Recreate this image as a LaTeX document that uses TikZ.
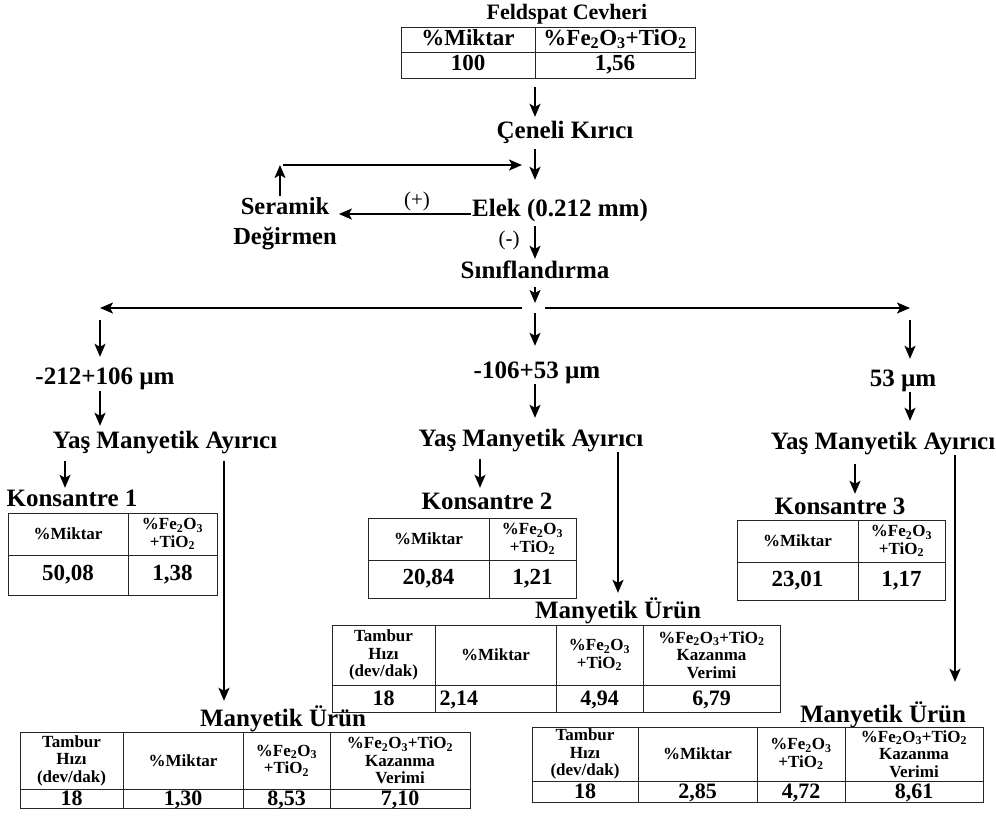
\documentclass[tikz,border=0pt]{standalone}
\usepackage{fontspec}
\setmainfont{Liberation Serif}
\usetikzlibrary{arrows.meta, positioning}
\tikzset{
    lbl/.style={font=\fontsize{25}{28}\selectfont\bfseries, inner sep=1pt, text height=17pt, text depth=5pt},
    twolbl/.style={font=\fontsize{24.5}{30}\selectfont\bfseries, inner sep=2pt, align=center},
    sublbl/.style={font=\fontsize{22}{24}\selectfont\bfseries, inner sep=2pt},
    sign/.style={font=\fontsize{21}{24}\selectfont, inner sep=1pt},
    cellbox/.style={draw=black!85, line width=0.9pt, inner sep=0.5pt, outer sep=0pt, align=center},
    hdrcell/.style={cellbox, font=\fontsize{17}{17.5}\selectfont\bfseries},
    valcell/.style={cellbox, font=\fontsize{23}{24}\selectfont\bfseries, text height=15.5pt, text depth=4pt},
    lowcell/.style={cellbox, font=\fontsize{22}{24}\selectfont\bfseries, text height=15pt, text depth=2pt},
    arr/.style={-{Stealth[length=13pt,width=11pt,inset=3pt]}, line width=1.8pt}
}
\newcommand{\feo}{\%Fe\textsubscript{2}O\textsubscript{3}}
\newcommand{\tio}{TiO\textsubscript{2}}

\begin{document}
\begin{tikzpicture}[x=1pt, y=-1pt]
    \useasboundingbox (0,0) rectangle (996,823);

    % arrow columns
    \coordinate (mid) at (535,0);
    \coordinate (c1) at (65,0);
    \coordinate (c2) at (480,0);
    \coordinate (c3) at (855,0);
    \coordinate (d1) at (224,0);
    \coordinate (d2) at (618,0);
    \coordinate (d3) at (955,0);

    \node (ttl) [sublbl] at (567,14) {Feldspat Cevheri};
    \node (ore1) [valcell, minimum width=134pt, minimum height=25pt, anchor=north west] at (401,27) {\%Miktar};
    \node (ore2) [valcell, minimum width=160pt, minimum height=25pt, right=0pt of ore1] {\feo+\tio};
    \node (ore3) [valcell, minimum width=134pt, minimum height=26pt, below=0pt of ore1] {100};
    \node (ore4) [valcell, minimum width=160pt, minimum height=26pt, below=0pt of ore2] {1,56};

    \node (crush) [lbl] at (565,132) {Çeneli Kırıcı};
    \node (elek) [lbl] at (560,210) {Elek (0.212 mm)};
    \node (seramik) [twolbl] at (285,224) {Seramik\\Değirmen};
    \node (sinif) [lbl] at (535,272) {Sınıflandırma};
    \node (plus) [sign] at (417,201) {(+)};
    \node (minus) [sign] at (509,240) {(-)};

    \coordinate (back) at (280,165);
    \coordinate (backend) at (522,165);
    \coordinate (splitL) at (522,308);
    \coordinate (splitR) at (545,308);
    \coordinate (brL) at (100,308);
    \coordinate (brR) at (910,308);

    \node (fr1) [lbl] at (105,378) {-212+106 µm};
    \node (fr2) [lbl] at (537,372) {-106+53 µm};
    \node (fr3) [lbl] at (903,380) {53 µm};

    \node (yma1) [lbl] at (165,442) {Yaş Manyetik Ayırıcı};
    \node (yma2) [lbl] at (531,440) {Yaş Manyetik Ayırıcı};
    \node (yma3) [lbl] at (883,443) {Yaş Manyetik Ayırıcı};

    \node (kon1) [lbl] at (72,500) {Konsantre 1};
    \node (kon2) [lbl] at (487,503) {Konsantre 2};
    \node (kon3) [lbl] at (840,508) {Konsantre 3};

    \node (mlbl1) [lbl] at (283,720) {Manyetik Ürün};
    \node (mlbl2) [lbl] at (618,612) {Manyetik Ürün};
    \node (mlbl3) [lbl] at (883,716) {Manyetik Ürün};

    % konsantre tablolari
    \node (k1a) [hdrcell, minimum width=120pt, minimum height=42pt, anchor=north west] at (8,513) {\%Miktar};
    \node (k1b) [hdrcell, minimum width=89pt, minimum height=42pt, right=0pt of k1a] {\feo\\+\tio};
    \node (k1c) [valcell, minimum width=120pt, minimum height=40pt, below=0pt of k1a] {50,08};
    \node (k1d) [valcell, minimum width=89pt, minimum height=40pt, below=0pt of k1b] {1,38};

    \node (k2a) [hdrcell, minimum width=121pt, minimum height=42pt, anchor=north west] at (368,518) {\%Miktar};
    \node (k2b) [hdrcell, minimum width=87pt, minimum height=42pt, right=0pt of k2a] {\feo\\+\tio};
    \node (k2c) [valcell, minimum width=121pt, minimum height=38pt, below=0pt of k2a] {20,84};
    \node (k2d) [valcell, minimum width=87pt, minimum height=38pt, below=0pt of k2b] {1,21};

    \node (k3a) [hdrcell, minimum width=121pt, minimum height=42pt, anchor=north west] at (737,520) {\%Miktar};
    \node (k3b) [hdrcell, minimum width=87pt, minimum height=42pt, right=0pt of k3a] {\feo\\+\tio};
    \node (k3c) [valcell, minimum width=121pt, minimum height=38pt, below=0pt of k3a] {23,01};
    \node (k3d) [valcell, minimum width=87pt, minimum height=38pt, below=0pt of k3b] {1,17};

    % manyetik urun tablolari
    \node (m1a) [hdrcell, minimum width=103pt, minimum height=57pt, anchor=north west] at (20,732) {Tambur\\Hızı\\(dev/dak)};
    \node (m1b) [hdrcell, minimum width=120pt, minimum height=57pt, right=0pt of m1a] {\%Miktar};
    \node (m1c) [hdrcell, minimum width=87pt, minimum height=57pt, right=0pt of m1b] {\feo\\+\tio};
    \node (m1d) [hdrcell, minimum width=140pt, minimum height=57pt, right=0pt of m1c] {\feo+\tio\\Kazanma\\Verimi};
    \node (m1e) [lowcell, minimum width=103pt, minimum height=19pt, below=0pt of m1a] {18};
    \node (m1f) [lowcell, minimum width=120pt, minimum height=19pt, below=0pt of m1b] {1,30};
    \node (m1g) [lowcell, minimum width=87pt, minimum height=19pt, below=0pt of m1c] {8,53};
    \node (m1h) [lowcell, minimum width=140pt, minimum height=19pt, below=0pt of m1d] {7,10};

    \node (m2a) [hdrcell, minimum width=103pt, minimum height=60pt, anchor=north west] at (332,625) {Tambur\\Hızı\\(dev/dak)};
    \node (m2b) [hdrcell, minimum width=121pt, minimum height=60pt, right=0pt of m2a] {\%Miktar};
    \node (m2c) [hdrcell, minimum width=87pt, minimum height=60pt, right=0pt of m2b] {\feo\\+\tio};
    \node (m2d) [hdrcell, minimum width=137pt, minimum height=60pt, right=0pt of m2c] {\feo+\tio\\Kazanma\\Verimi};
    \node (m2e) [lowcell, minimum width=103pt, minimum height=27pt, below=0pt of m2a] {18};
    \node (m2f) [lowcell, minimum width=121pt, minimum height=27pt, text width=112pt, align=left, below=0pt of m2b] {2,14};
    \node (m2g) [lowcell, minimum width=87pt, minimum height=27pt, below=0pt of m2c] {4,94};
    \node (m2h) [lowcell, minimum width=137pt, minimum height=27pt, below=0pt of m2d] {6,79};

    \node (m3a) [hdrcell, minimum width=106pt, minimum height=54pt, anchor=north west] at (532,727) {Tambur\\Hızı\\(dev/dak)};
    \node (m3b) [hdrcell, minimum width=119pt, minimum height=54pt, right=0pt of m3a] {\%Miktar};
    \node (m3c) [hdrcell, minimum width=88pt, minimum height=54pt, right=0pt of m3b] {\feo\\+\tio};
    \node (m3d) [hdrcell, minimum width=138pt, minimum height=54pt, right=0pt of m3c] {\feo+\tio\\Kazanma\\Verimi};
    \node (m3e) [lowcell, minimum width=106pt, minimum height=21pt, below=0pt of m3a] {18};
    \node (m3f) [lowcell, minimum width=119pt, minimum height=21pt, below=0pt of m3b] {2,85};
    \node (m3g) [lowcell, minimum width=88pt, minimum height=21pt, below=0pt of m3c] {4,72};
    \node (m3h) [lowcell, minimum width=138pt, minimum height=21pt, below=0pt of m3d] {8,61};

    % baglantilar
    \draw [arr, shorten <=9pt, shorten >=3pt] (ore3.south -| mid) -- (crush.north -| mid);
    \draw [arr, shorten <=5pt, shorten >=18pt] (crush.south -| mid) -- (elek.north -| mid);
    \draw [arr] (seramik.north -| back) -- (back);
    \draw [arr, shorten <=3pt] (back) -- (backend);
    \draw [arr] ([yshift=-4pt]elek.west) -- ([yshift=-4pt]elek.west -| seramik.east);
    \draw [arr, shorten <=4pt, shorten >=1pt] (elek.south -| mid) -- (sinif.north -| mid);
    \draw [arr, shorten <=3pt, shorten >=5pt] (sinif.south -| mid) -- (splitL -| mid);
    \draw [arr] (splitL) -- (brL);
    \draw [arr] (splitR) -- (brR);

    \draw [arr, shorten <=12pt, shorten >=9pt] (brL) -- (fr1.north -| brL);
    \draw [arr, shorten <=5pt, shorten >=14pt] (splitL -| mid) -- (fr2.north -| mid);
    \draw [arr, shorten <=12pt, shorten >=9pt] (brR) -- (fr3.north -| brR);

    \draw [arr, shorten <=1pt, shorten >=4pt] (fr1.south -| brL) -- (yma1.north -| brL);
    \draw [arr, shorten <=0pt, shorten >=10pt] (fr2.south -| mid) -- (yma2.north -| mid);
    \draw [arr, shorten <=0pt, shorten >=10pt] (fr3.south -| brR) -- (yma3.north -| brR);

    \draw [arr, shorten <=7pt] (yma1.south -| c1) -- (kon1.north -| c1);
    \draw [arr, shorten <=7pt, shorten >=3pt] (yma2.south -| c2) -- (kon2.north -| c2);
    \draw [arr, shorten <=9pt, shorten >=2pt] (yma3.south -| c3) -- (kon3.north -| c3);

    \draw [arr, shorten <=7pt, shorten >=7pt] (yma1.south -| d1) -- (mlbl1.north -| d1);
    \draw [arr, shorten >=7pt] (yma2.south -| d2) -- (mlbl2.north -| d2);
    \draw [arr, shorten >=22pt] (yma3.south -| d3) -- (mlbl3.north -| d3);
\end{tikzpicture}
\end{document}
